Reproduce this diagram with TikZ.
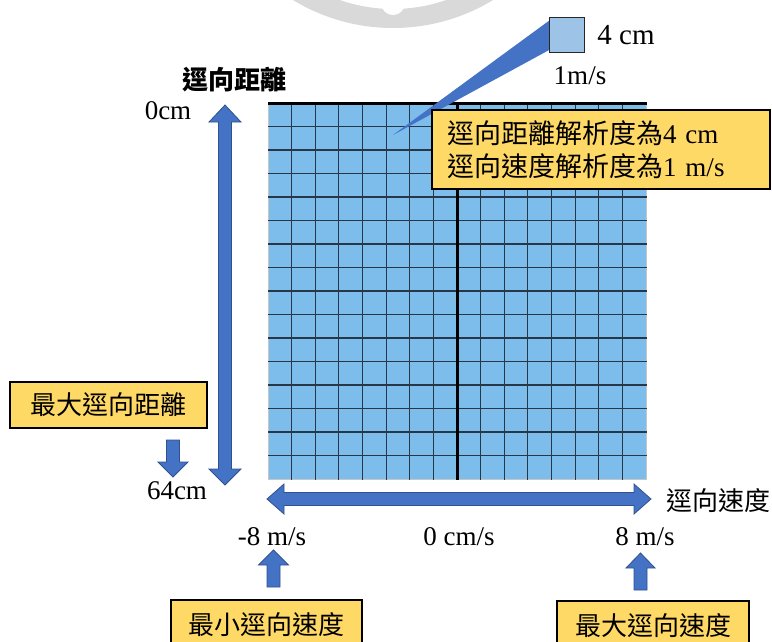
\documentclass[tikz,border=0pt]{standalone}
\usepackage{fontspec}
\usetikzlibrary{calc}
\setmainfont{Liberation Serif}
\newfontfamily\cjk{Noto Sans CJK TC}
\definecolor{gridblue}{RGB}{124,189,236}
\definecolor{gridline}{RGB}{40,55,72}
\definecolor{arrowblue}{RGB}{68,114,196}
\definecolor{arrowedge}{RGB}{47,82,143}
\definecolor{boxyellow}{RGB}{255,217,102}
\definecolor{cellblue}{RGB}{157,195,230}
\definecolor{wmgray}{RGB}{217,217,217}
\tikzset{
  blockarrow/.style={fill=arrowblue, draw=arrowedge, line width=0.8pt, line join=miter},
  labelbox/.style={draw=black, line width=1.3pt, fill=boxyellow, inner sep=0pt},
  lat/.style={font=\fontsize{27}{30}\selectfont, inner sep=0pt},
  cjklab/.style={font=\fontsize{26}{30}\selectfont\cjk, inner sep=0pt},
}
\begin{document}
\begin{tikzpicture}[x=1pt,y=-1pt]
\useasboundingbox (0,0) rectangle (772,641);
\clip (0,0) rectangle (772,641);
% watermark fragment
\fill[wmgray, even odd rule] (393,-164.6) circle (192.6) (393,-151.5) circle (160.5);
\fill[white] (393,3) circle (12);
% grid
\node[draw=gray!45, line width=0.8pt, fill=gridblue, minimum width=378pt, minimum height=376pt, inner sep=0pt, anchor=north west] (grid) at (268,103) {};
\foreach \i in {1,...,15} {
  \draw[gridline, line width=1.1pt] ($(grid.north west)+(\i*23.625,0)$) -- ($(grid.south west)+(\i*23.625,0)$);
  \draw[gridline, line width=1.1pt] ($(grid.north west)+(0,\i*23.5)$) -- ($(grid.north east)+(0,\i*23.5)$);
}
\draw[black, line width=3pt] (grid.north west) -- (grid.north east);
\draw[black, line width=3pt] (grid.north) -- (grid.south);
% vertical double arrow
\draw[blockarrow] (225,105) -- (241,122) -- (231.5,122) -- (231.5,469) -- (241,469) -- (225,485) -- (209,469) -- (218.5,469) -- (218.5,122) -- (209,122) -- cycle;
% horizontal double arrow
\draw[blockarrow] (267,499) -- (284,484) -- (284,492.5) -- (634,492.5) -- (634,484) -- (651,499) -- (634,514) -- (634,505.5) -- (284,505.5) -- (284,514) -- cycle;
% small down arrow
\draw[blockarrow] (166.5,440) -- (179.5,440) -- (179.5,462) -- (188,462) -- (173,477) -- (158,462) -- (166.5,462) -- cycle;
% up arrows
\draw[blockarrow] (273.5,550) -- (288.5,565) -- (280,565) -- (280,587) -- (267,587) -- (267,565) -- (258.5,565) -- cycle;
\draw[blockarrow] (640.5,553) -- (655,568) -- (647,568) -- (647,590) -- (634,590) -- (634,568) -- (626,568) -- cycle;
% callout wedge and cell
\coordinate (tip) at (393,135);
\node[draw=black!85, line width=1.3pt, fill=cellblue, minimum width=35pt, minimum height=35pt, inner sep=0pt] (cell) at (567,35) {};
\fill[arrowblue] (tip) -- ($(cell.north west)+(0,4)$) -- ($(cell.south west)+(0,-3)$) -- cycle;
\node[draw=black!85, line width=1.3pt, fill=cellblue, minimum width=35pt, minimum height=35pt, inner sep=0pt] at (cell) {};
% callout text box
\node[labelbox, minimum width=338pt, minimum height=79pt, text width=308pt, align=left, inner xsep=15pt, font=\fontsize{27}{33}\selectfont] (note) at (601,149.5)
  {{\cjk 逕向距離解析度為}4 cm\\{\cjk 逕向速度解析度為}1 m/s};
% labels
\node[lat, font=\fontsize{29}{30}\selectfont] (cm4) at (626,35) {4 cm};
\node[lat] (ms1) at (580,76) {1m/s};
\node[cjklab, font=\fontsize{26}{30}\selectfont\cjk\bfseries] (dist) at (234,80) {逕向距離};
\node[lat] (zero) at (168,111) {0cm};
\node[lat] (sixtyfour) at (177,491) {64cm};
\node[cjklab] (vel) at (718,501) {逕向速度};
\node[lat] (vmin) at (272,537) {-8 m/s};
\node[lat] (vzero) at (459,537) {0 cm/s};
\node[lat] (vmax) at (645,537) {8 m/s};
% yellow boxes
\node[labelbox, minimum width=197pt, minimum height=46pt, font=\fontsize{26}{30}\selectfont\cjk] (maxdist) at (108.5,405) {最大逕向距離};
\node[labelbox, minimum width=191pt, minimum height=50pt, font=\fontsize{26}{30}\selectfont\cjk] (minvel) at (266.5,625) {最小逕向速度};
\node[labelbox, minimum width=192pt, minimum height=50pt, font=\fontsize{26}{30}\selectfont\cjk] (maxvel) at (653,626) {最大逕向速度};
\end{tikzpicture}
\end{document}
